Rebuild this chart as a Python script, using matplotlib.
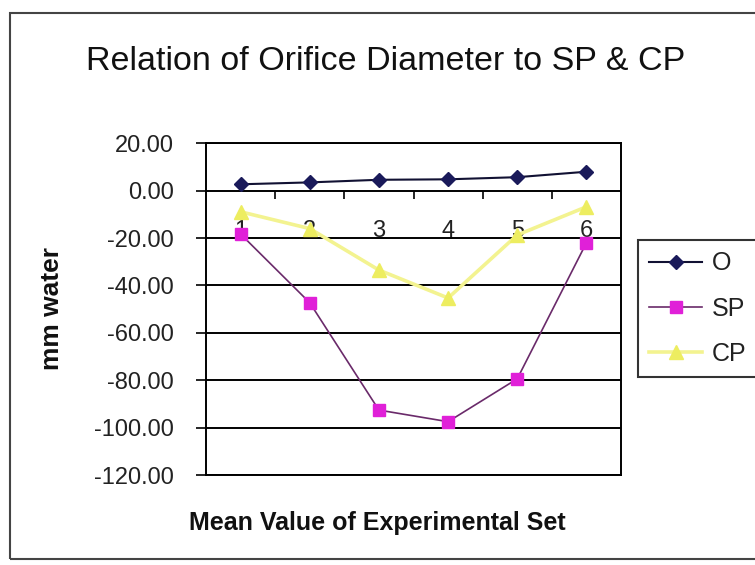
import numpy as np
import matplotlib
matplotlib.use('Agg')
import matplotlib.pyplot as plt
from matplotlib.patches import Rectangle
from matplotlib.ticker import FixedLocator, FormatStrFormatter

plt.rcParams['font.family'] = ['Liberation Sans', 'DejaVu Sans']

sets = [1, 2, 3, 4, 5, 6]
o_vals = [2.7, 3.5, 4.6, 4.8, 5.7, 8.0]
sp_vals = [-18.3, -47.3, -92.6, -97.5, -79.4, -22.0]
cp_vals = [-8.9, -16.0, -33.5, -45.3, -18.7, -6.8]
series_names = ['O', 'SP', 'CP']
y_ticks = [20, 0, -20, -40, -60, -80, -100, -120]

W, H = 755, 565
fig = plt.figure(figsize=(W / 100, H / 100), dpi=100)

# outer chart border (right side runs off the picture)
fig.patches.append(Rectangle((10 / W, 1 - 559 / H), 760 / W, (559 - 12.7) / H,
                             transform=fig.transFigure, fill=False,
                             edgecolor='#444444', lw=1.5))

ax = fig.add_axes([206 / W, 1 - 475 / H, 415 / W, 331.7 / H])
ax.set_xlim(0.5, 6.5)
ax.set_ylim(-120, 20)

ax.set_yticks(y_ticks)
ax.yaxis.set_major_formatter(FormatStrFormatter('%.2f'))
ax.tick_params(axis='y', direction='out', length=7, width=1.2, pad=16,
               labelsize=17, labelcolor='#222222')
ax.grid(axis='y', color='black', lw=1.4)
ax.set_axisbelow(True)
for s in ax.spines.values():
    s.set_color('black')
    s.set_linewidth(1.4)
ax.tick_params(axis='x', bottom=False, labelbottom=False)

# category axis sits on the zero line
sec = ax.secondary_xaxis((0 - (-120)) / 140)
sec.set_alignment('bottom')
sec.spines['bottom'].set_visible(False)
sec.xaxis.set_major_locator(FixedLocator(sets))
sec.xaxis.set_minor_locator(FixedLocator([1.5, 2.5, 3.5, 4.5, 5.5]))
sec.tick_params(axis='x', which='major', length=0, pad=21, labelsize=17,
                labelcolor='#222222')
sec.tick_params(axis='x', which='minor', length=6, width=1.2, direction='out',
                color='black')

ax.plot(sets, cp_vals, color='#f3f390', lw=2.6, marker='^', markersize=10,
        markerfacecolor='#eded60', markeredgecolor='#eded60', label=series_names[2], zorder=3)
ax.plot(sets, sp_vals, color='#6a2a6a', lw=1.2, marker='s', markersize=8,
        markerfacecolor='#e020d8', markeredgecolor='#e020d8', label=series_names[1], zorder=4)
ax.plot(sets, o_vals, color='#111133', lw=1.5, marker='D', markersize=7,
        markerfacecolor='#1a1a5a', markeredgecolor='#1a1a5a', label=series_names[0], zorder=5)

handles, labels = ax.get_legend_handles_labels()
order = [2, 1, 0]
leg = fig.legend([handles[i] for i in order], [labels[i] for i in order],
                 loc='upper left', bbox_to_anchor=(638 / W, 1 - 240 / H),
                 borderaxespad=0, frameon=True, fancybox=False, fontsize=18,
                 handlelength=2.1, handletextpad=0.4, labelspacing=0.85,
                 borderpad=0.45)
leg.get_frame().set_edgecolor('black')
leg.get_frame().set_linewidth(1.5)
for t in leg.get_texts():
    t.set_color('#222222')

fig.text(386 / W, 1 - 62 / H, 'Relation of Orifice Diameter to SP & CP',
         ha='center', va='center', fontsize=24.5, color='#111111')
fig.text(52 / W, 1 - 308 / H, 'mm water', rotation=90, ha='center', va='center',
         fontsize=19, fontweight='bold', color='#111111')
fig.text(377 / W, 1 - 523 / H, 'Mean Value of Experimental Set', ha='center',
         va='center', fontsize=18, fontweight='bold', color='#111111')

fig.savefig('out.png', dpi=100)
